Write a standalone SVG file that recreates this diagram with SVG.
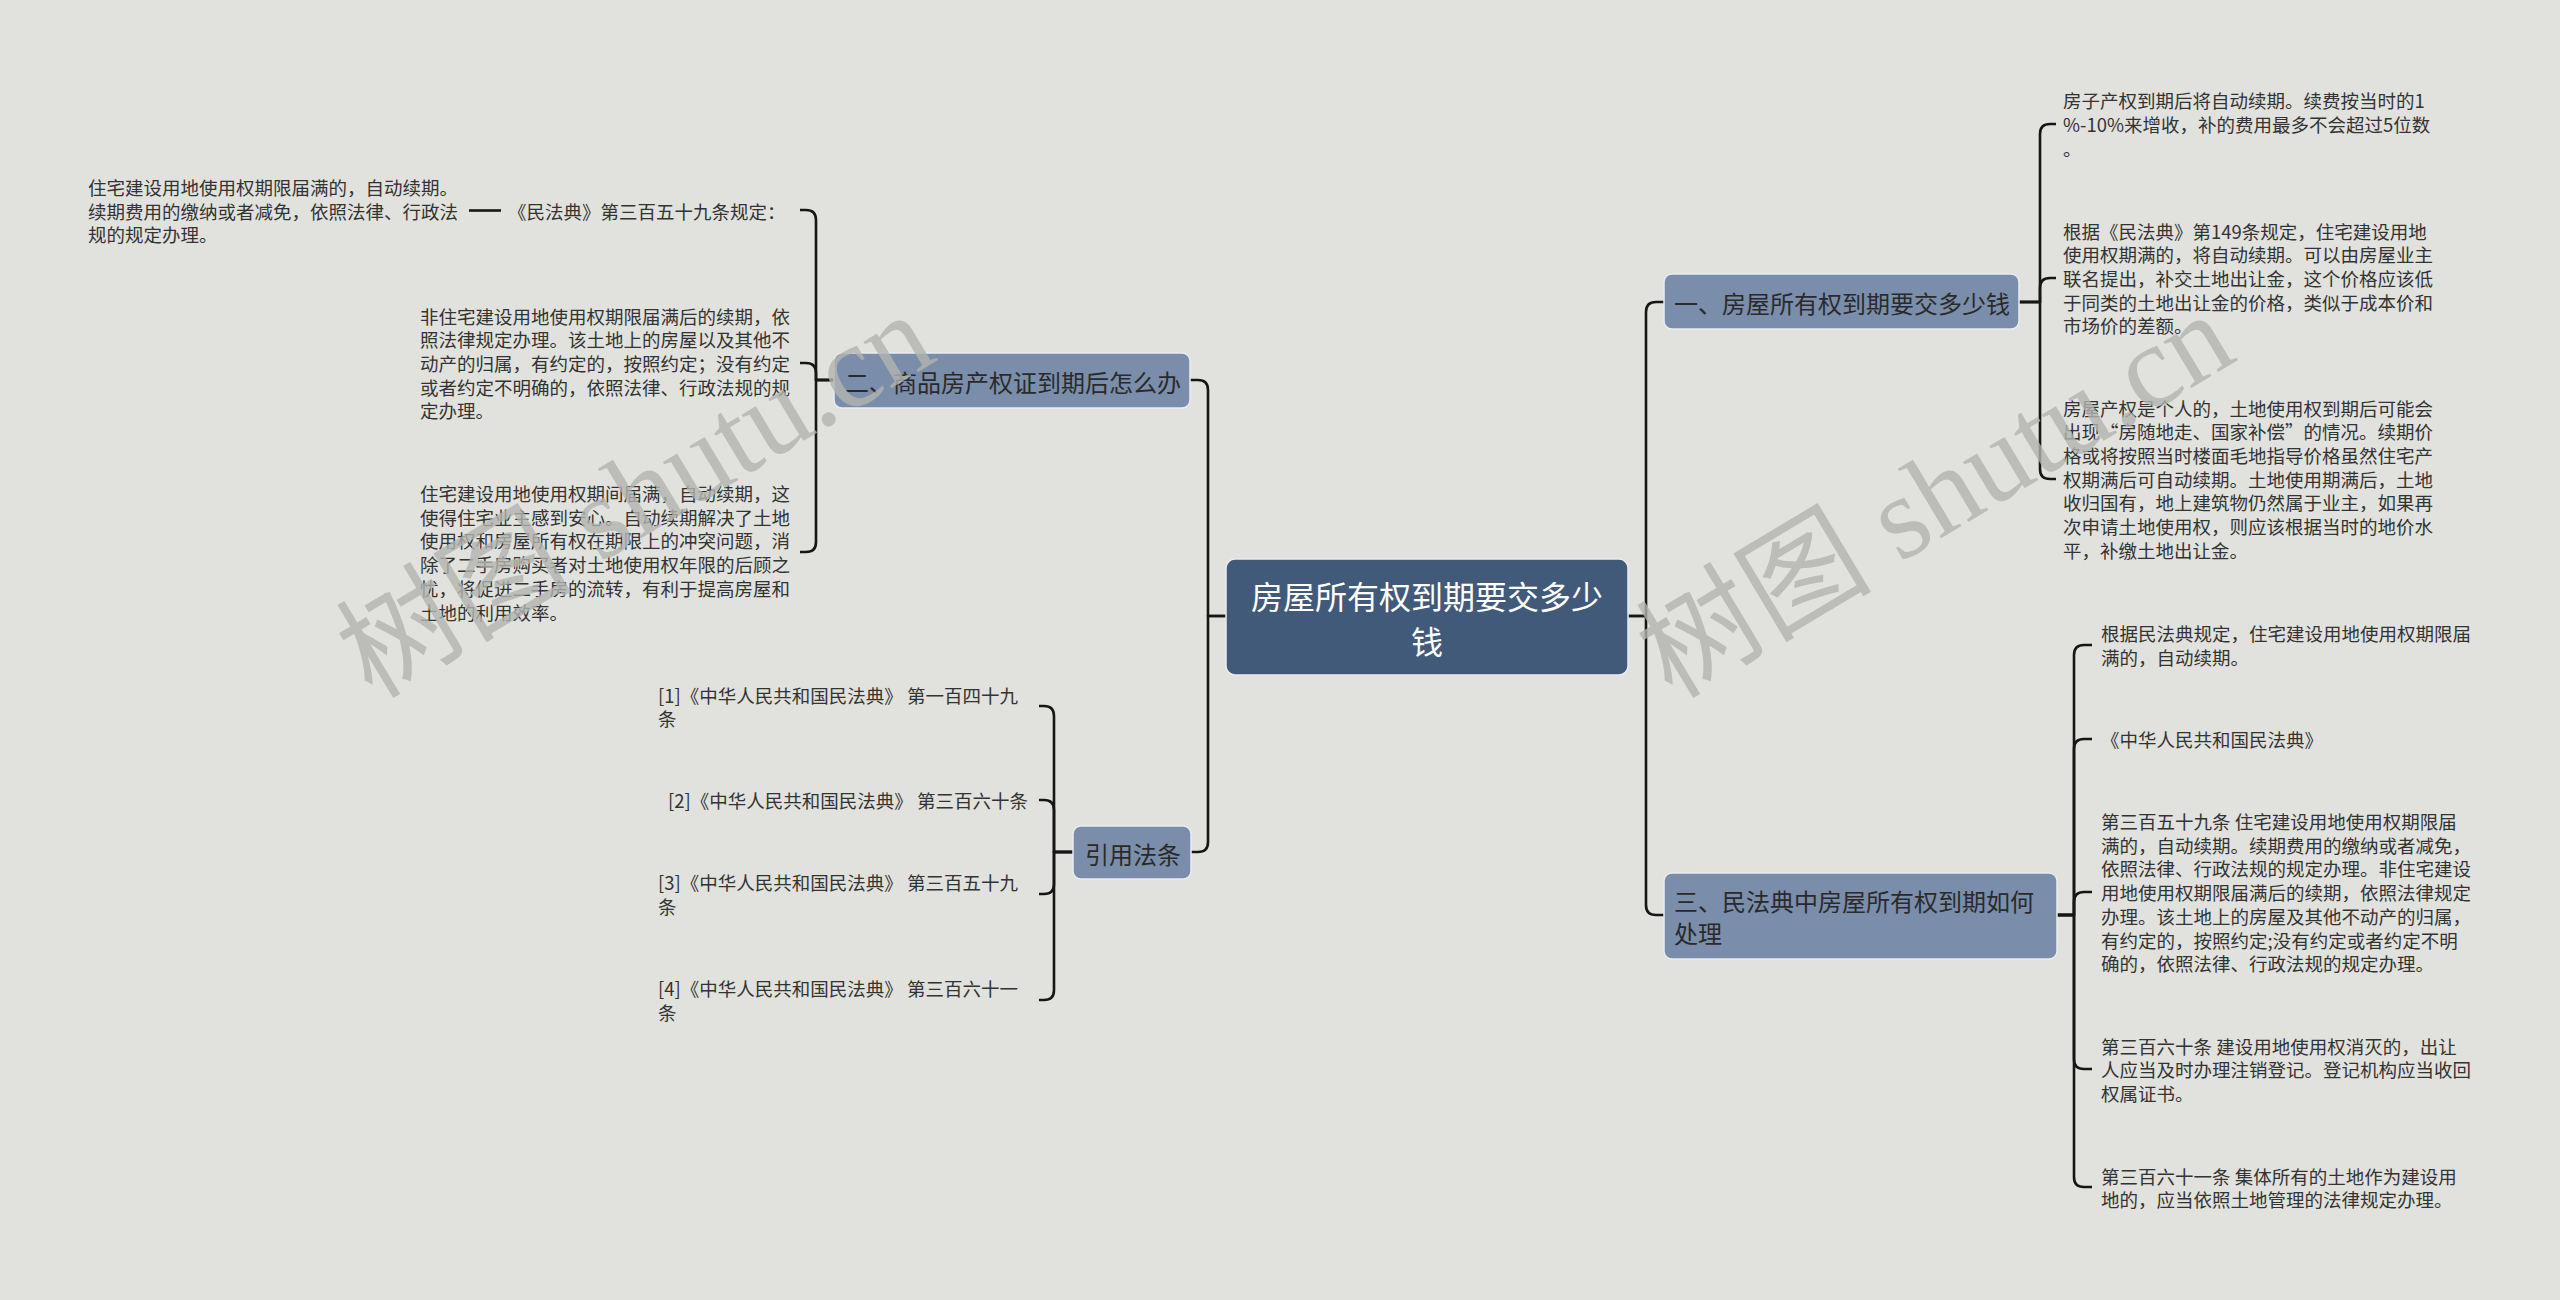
<svg xmlns="http://www.w3.org/2000/svg" width="2560" height="1300" viewBox="0 0 2560 1300">
<style>
text{font-family:"Noto Sans CJK SC","Noto Sans",sans-serif;dominant-baseline:central}
.leaf{font-size:18.5px;fill:#333333}
.br{font-size:24px;fill:#2a2a2a}
.rt{font-size:32px;fill:#ffffff}
.conn{fill:none;stroke:#161616;stroke-width:2.6;stroke-linejoin:round}
.bbox{fill:#7a8daa;stroke:#e8ecf2;stroke-width:1.5}
.rbox{fill:#425a7a;stroke:#e8ecf2;stroke-width:1.5}
.wm{font-family:"Liberation Serif","Noto Sans CJK SC",serif;font-size:118px;fill:#b3b4b0;opacity:0.8;dominant-baseline:auto}
</style>
<rect x="0" y="0" width="2560" height="1300" fill="#e1e2dd"/>

<g id="connectors">
<path class="conn" d="M1628,616 H1646 V312 Q1646,302 1656,302 H1664"/>
<path class="conn" d="M1628,616 H1646 V905 Q1646,915 1656,915 H1664"/>
<path class="conn" d="M1226,616 H1208 V390 Q1208,380 1198,380 H1190"/>
<path class="conn" d="M1226,616 H1208 V842 Q1208,852 1198,852 H1191"/>

<path class="conn" d="M2019,302 H2040 V134 Q2040,124 2050,124 H2056"/>
<path class="conn" d="M2019,302 H2040 V288 Q2040,278 2050,278 H2056"/>
<path class="conn" d="M2019,302 H2040 V469 Q2040,479 2050,479 H2056"/>

<path class="conn" d="M2057,915 H2074 V655 Q2074,645 2084,645 H2092"/>
<path class="conn" d="M2057,915 H2074 V749 Q2074,739 2084,739 H2092"/>
<path class="conn" d="M2057,915 H2074 V902 Q2074,892 2084,892 H2092"/>
<path class="conn" d="M2057,915 H2074 V1059 Q2074,1069 2084,1069 H2092"/>
<path class="conn" d="M2057,915 H2074 V1177 Q2074,1187 2084,1187 H2092"/>

<path class="conn" d="M834,380 H816 V220 Q816,210 806,210 H800"/>
<path class="conn" d="M834,380 H816 V373 Q816,363 806,363 H800"/>
<path class="conn" d="M834,380 H816 V542 Q816,552 806,552 H800"/>
<path class="conn" d="M501,210.5 H469"/>

<path class="conn" d="M1073,852 H1054 V716 Q1054,706 1044,706 H1039"/>
<path class="conn" d="M1073,852 H1054 V810 Q1054,800 1044,800 H1039"/>
<path class="conn" d="M1073,852 H1054 V884 Q1054,894 1044,894 H1039"/>
<path class="conn" d="M1073,852 H1054 V990 Q1054,1000 1044,1000 H1039"/>
</g>

<g id="root">
<rect class="rbox" x="1226" y="559" width="402" height="116" rx="9"/>
<text class="rt" text-anchor="middle"><tspan x="1427" y="595">房屋所有权到期要交多少</tspan><tspan x="1427" y="640">钱</tspan></text>
</g>

<g id="branch1">
<rect class="bbox" x="1664" y="274" width="355" height="55" rx="8"/>
<text class="br" x="1674" y="302">一、房屋所有权到期要交多少钱</text>
</g>
<g id="b1-leaf1">
<text class="leaf"><tspan x="2063" y="100">房子产权到期后将自动续期。续费按当时的1</tspan><tspan x="2063" y="124">%-10%来增收，补的费用最多不会超过5位数</tspan><tspan x="2063" y="148">。</tspan></text>
</g>
<g id="b1-leaf2">
<text class="leaf"><tspan x="2063" y="230.5">根据《民法典》第149条规定，住宅建设用地</tspan><tspan x="2063" y="254.2">使用权期满的，将自动续期。可以由房屋业主</tspan><tspan x="2063" y="277.9">联名提出，补交土地出让金，这个价格应该低</tspan><tspan x="2063" y="301.6">于同类的土地出让金的价格，类似于成本价和</tspan><tspan x="2063" y="325.3">市场价的差额。</tspan></text>
</g>
<g id="b1-leaf3">
<text class="leaf"><tspan x="2063" y="407.5">房屋产权是个人的，土地使用权到期后可能会</tspan><tspan x="2063" y="431.2">出现“房随地走、国家补偿”的情况。续期价</tspan><tspan x="2063" y="454.9">格或将按照当时楼面毛地指导价格虽然住宅产</tspan><tspan x="2063" y="478.6">权期满后可自动续期。土地使用期满后，土地</tspan><tspan x="2063" y="502.3">收归国有，地上建筑物仍然属于业主，如果再</tspan><tspan x="2063" y="526">次申请土地使用权，则应该根据当时的地价水</tspan><tspan x="2063" y="549.7">平，补缴土地出让金。</tspan></text>
</g>

<g id="branch3">
<rect class="bbox" x="1664" y="873" width="393" height="86" rx="8"/>
<text class="br"><tspan x="1674" y="900">三、民法典中房屋所有权到期如何</tspan><tspan x="1674" y="932">处理</tspan></text>
</g>
<g id="b3-leaf1">
<text class="leaf"><tspan x="2101" y="633.2">根据民法典规定，住宅建设用地使用权期限届</tspan><tspan x="2101" y="656.9">满的，自动续期。</tspan></text>
</g>
<g id="b3-leaf2">
<text class="leaf" x="2101" y="739">《中华人民共和国民法典》</text>
</g>
<g id="b3-leaf3">
<text class="leaf"><tspan x="2101" y="821">第三百五十九条 住宅建设用地使用权期限届</tspan><tspan x="2101" y="844.7">满的，自动续期。续期费用的缴纳或者减免，</tspan><tspan x="2101" y="868.4">依照法律、行政法规的规定办理。非住宅建设</tspan><tspan x="2101" y="892.1">用地使用权期限届满后的续期，依照法律规定</tspan><tspan x="2101" y="915.8">办理。该土地上的房屋及其他不动产的归属，</tspan><tspan x="2101" y="939.5">有约定的，按照约定;没有约定或者约定不明</tspan><tspan x="2101" y="963.2">确的，依照法律、行政法规的规定办理。</tspan></text>
</g>
<g id="b3-leaf4">
<text class="leaf"><tspan x="2101" y="1045.5">第三百六十条 建设用地使用权消灭的，出让</tspan><tspan x="2101" y="1069.2">人应当及时办理注销登记。登记机构应当收回</tspan><tspan x="2101" y="1092.9">权属证书。</tspan></text>
</g>
<g id="b3-leaf5">
<text class="leaf"><tspan x="2101" y="1175.5">第三百六十一条 集体所有的土地作为建设用</tspan><tspan x="2101" y="1199.2">地的，应当依照土地管理的法律规定办理。</tspan></text>
</g>

<g id="branch2">
<rect class="bbox" x="834" y="353" width="356" height="55" rx="8"/>
<text class="br" x="845" y="381">二、商品房产权证到期后怎么办</text>
</g>
<g id="b2-leaf1">
<text class="leaf" x="508" y="210.5">《民法典》第三百五十九条规定：</text>
</g>
<g id="b2-leaf1-child">
<text class="leaf"><tspan x="88" y="187">住宅建设用地使用权期限届满的，自动续期。</tspan><tspan x="88" y="210.7">续期费用的缴纳或者减免，依照法律、行政法</tspan><tspan x="88" y="234.4">规的规定办理。</tspan></text>
</g>
<g id="b2-leaf2">
<text class="leaf"><tspan x="420" y="315.5">非住宅建设用地使用权期限届满后的续期，依</tspan><tspan x="420" y="339.2">照法律规定办理。该土地上的房屋以及其他不</tspan><tspan x="420" y="362.9">动产的归属，有约定的，按照约定；没有约定</tspan><tspan x="420" y="386.6">或者约定不明确的，依照法律、行政法规的规</tspan><tspan x="420" y="410.3">定办理。</tspan></text>
</g>
<g id="b2-leaf3">
<text class="leaf"><tspan x="420" y="493">住宅建设用地使用权期间届满，自动续期，这</tspan><tspan x="420" y="516.7">使得住宅业主感到安心。自动续期解决了土地</tspan><tspan x="420" y="540.4">使用权和房屋所有权在期限上的冲突问题，消</tspan><tspan x="420" y="564.1">除了二手房购买者对土地使用权年限的后顾之</tspan><tspan x="420" y="587.8">忧，将促进二手房的流转，有利于提高房屋和</tspan><tspan x="420" y="611.5">土地的利用效率。</tspan></text>
</g>

<g id="branch4">
<rect class="bbox" x="1073" y="826" width="118" height="53" rx="8"/>
<text class="br" x="1085" y="853">引用法条</text>
</g>
<g id="ref1">
<text class="leaf"><tspan x="658" y="694.5">[1]《中华人民共和国民法典》 第一百四十九</tspan><tspan x="658" y="718.2">条</tspan></text>
</g>
<g id="ref2">
<text class="leaf" x="668" y="800">[2]《中华人民共和国民法典》 第三百六十条</text>
</g>
<g id="ref3">
<text class="leaf"><tspan x="658" y="882">[3]《中华人民共和国民法典》 第三百五十九</tspan><tspan x="658" y="905.7">条</tspan></text>
</g>
<g id="ref4">
<text class="leaf"><tspan x="658" y="988">[4]《中华人民共和国民法典》 第三百六十一</tspan><tspan x="658" y="1011.7">条</tspan></text>
</g>

<g id="watermarks">
<text class="wm" transform="translate(372,700) rotate(-31)">树图 shutu.cn</text>
<text class="wm" transform="translate(1672,700) rotate(-31)">树图 shutu.cn</text>
</g>
</svg>
